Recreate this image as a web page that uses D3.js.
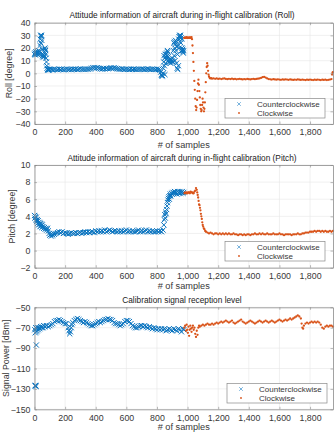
<!DOCTYPE html>
<html>
<head>
<meta charset="utf-8">
<script src="https://cdn.jsdelivr.net/npm/d3@7"></script>
<style>
  body { margin: 0; background: #fff; }
  svg { display: block; font-family: "Liberation Sans", Arial, sans-serif; }
</style>
</head>
<body>
<div id="chart"></div>
<script>
// Sample ranges and legend labels
const xDomain = [0, 1950];
const xTicks = [0, 200, 400, 600, 800, 1000, 1200, 1400, 1600, 1800];
const seriesNames = ["Counterclockwise", "Clockwise"];

// Roll [degree], counterclockwise turn (sample, value)
const rollCcw = [[0,15],[3,16],[6,14.5],[9,17],[12,15.5],[15,16],[18,15],[21,17],[24,16],[27,18],[30,15],[33,17],[36,22],[38,27],[40,30],[42,24],[44,29],[46,30],[48,26],[50,19],[52,14],[55,13],[58,15],[61,14],[64,13],[66,17],[68,20],[70,19],[72,18],[74,15],[76,12],[78,9],[80,6],[82,4],[85,3],[88,2.5],[92,3],[96,2.6],[100,3.2],
  [110,3.0],[120,2.8],[130,3.3],[140,3.1],[150,2.9],[160,3.4],[170,3.0],[180,3.2],[190,2.8],[200,3.1],[210,3.5],[220,3.0],[230,3.2],[240,2.9],[250,3.3],[260,3.1],[270,3.4],[280,3.0],[290,3.2],[300,3.6],[310,3.1],[320,3.3],[330,3.0],[340,3.4],[350,3.2],[360,3.5],[370,3.8],[380,4.4],[390,4.6],[400,4.3],[410,4.5],[420,4.0],[430,3.6],[440,3.4],[450,3.8],[460,3.5],[470,3.9],[480,3.6],[490,4.0],[500,4.3],[510,4.1],[520,4.4],[530,4.0],[540,3.6],[550,3.4],[560,3.2],[570,3.5],[580,3.3],[590,3.1],[600,3.4],[610,3.2],[620,3.0],[630,3.3],[640,3.1],[650,3.4],[660,3.2],[670,3.0],[680,3.3],[690,3.1],[700,3.4],[710,3.2],[720,3.0],[730,3.3],[740,3.5],[750,3.2],[760,3.0],[770,3.4],[780,3.2],[790,3.1],[800,3.3],[810,3.0],[820,2.5],
  [825,1],[828,-1],[831,-2],[834,-1.5],[837,-2],[840,0],[842,4],[844,9],[846,14],[848,6],[850,12],[852,-1],[854,15],[856,8],[858,13],[860,15],[862,11],[864,16],[866,14],[868,18],[870,17],[872,13],[874,10],[877,9],[880,11],[883,9],[886,10],[889,8],[892,11],[895,9],[898,10],[901,12],[904,9],[907,18],[910,24],[912,14],[914,25],[916,20],[918,10],[920,23],[922,26],[924,18],[926,25],[928,8],[930,21],[932,4],[934,15],[936,3],[938,22],[940,6],[942,27],[944,29],[946,20],[948,30],[950,25],[952,29],[954,30],[956,24],[958,28],[960,18],[962,27],[964,20],[966,18],[968,19],[970,17],[972,16],[975,18]];

// Roll [degree], clockwise turn
const rollCw = [[978,28],[982,28],[986,28.3],[990,28],[994,28.5],[998,28],[1002,28.2],[1006,28],[1010,28.4],[1014,28],[1018,28.3],[1022,28],[1026,28.5],[1029,27],[1032,22],[1035,16],[1038,9],[1041,2],[1044,-6],[1047,-13],[1050,-20],[1053,-26],[1056,-29],[1059,-27],[1062,-21],[1065,-14],[1068,-8],[1071,-5],[1074,-9],[1077,-14],[1080,-19],[1083,-25],[1086,-28],[1089,-30],[1092,-29],[1095,-25],[1098,-20],[1101,-23],[1104,-27],[1107,-30],[1110,-28],[1113,-23],[1116,-15],[1119,-7],[1122,0],[1125,5],[1128,8],[1131,6],[1134,2],[1137,-1],[1140,-2.5],[1144,-3.5],[1148,-4],[1154,-3.8],
  [1160,-4.2],[1170,-3.9],[1180,-4.3],[1190,-4.0],[1200,-4.4],[1210,-4.1],[1220,-4.5],[1230,-4.2],[1240,-4.0],[1250,-4.4],[1260,-4.6],[1270,-4.3],[1280,-4.5],[1290,-4.2],[1300,-4.6],[1310,-4.4],[1320,-4.7],[1330,-4.5],[1340,-4.3],[1350,-4.6],[1360,-4.8],[1370,-4.5],[1380,-4.7],[1390,-4.4],[1400,-4.6],[1410,-4.8],[1420,-4.5],[1430,-4.3],[1440,-4.6],[1450,-4.4],[1460,-4.2],[1470,-4.0],[1480,-3.6],[1490,-3.0],[1500,-2.8],[1510,-3.3],[1520,-4.0],[1530,-4.5],[1540,-4.7],[1550,-4.9],[1560,-4.6],[1570,-4.8],[1580,-5.0],[1590,-4.7],[1600,-4.9],[1610,-5.1],[1620,-4.8],[1630,-5.0],[1640,-4.7],[1650,-4.9],[1660,-5.1],[1670,-4.8],[1680,-5.0],[1690,-5.2],[1700,-4.9],[1710,-5.1],[1720,-4.8],[1730,-5.0],[1740,-5.2],[1750,-4.9],[1760,-5.1],[1770,-5.3],[1780,-5.0],[1790,-5.2],[1800,-4.9],[1810,-5.1],[1820,-5.3],[1830,-5.0],[1840,-5.2],[1850,-4.9],[1860,-5.1],[1870,-5.3],[1880,-5.0],[1890,-5.2],[1900,-5.0],[1910,-5.3],[1920,-5.1],[1930,-4.9],[1940,-4.5],[1944,-1],[1947,0.5],[1950,1]];

// Pitch [degree], counterclockwise turn
const pitchCcw = [[0,4.1],[3,3.8],[6,4.0],[9,3.6],[12,3.9],[15,3.4],[18,3.6],[21,3.2],[24,3.5],[27,3.0],[30,3.3],[33,3.1],[36,2.8],[39,3.2],[42,2.9],[45,3.1],[48,2.7],[51,3.0],[55,2.8],[60,2.6],[65,2.7],[70,2.5],[75,2.6],[80,2.4],[85,2.6],[90,2.3],[95,2.0],[100,1.8],[105,1.9],[110,1.7],[115,1.9],[120,1.8],[125,2.0],[130,1.9],[140,2.0],[150,2.1],[160,2.2],[170,2.1],[180,2.2],[190,2.0],[200,2.1],[210,2.0],[220,1.9],[230,2.0],[240,2.1],[250,2.0],[260,2.0],[270,2.1],[280,2.0],[290,2.1],[300,2.1],[310,2.0],[320,2.1],[330,2.2],[340,2.1],[350,2.2],[360,2.1],[370,2.2],[380,2.2],[390,2.1],[400,2.3],[410,2.2],[420,2.3],[430,2.2],[440,2.3],[450,2.2],[460,2.4],[470,2.2],[480,2.3],[490,2.4],[500,2.3],[510,2.2],[520,2.3],[530,2.3],[540,2.2],[550,2.3],[560,2.2],[570,2.3],[580,2.2],[590,2.3],[600,2.4],[610,2.2],[620,2.3],[630,2.2],[640,2.3],[650,2.2],[660,2.2],[670,2.3],[680,2.4],[690,2.2],[700,2.3],[710,2.2],[720,2.3],[730,2.4],[740,2.2],[750,2.3],[760,2.2],[770,2.3],[780,2.2],[790,2.2],[800,2.3],[810,2.2],[820,2.3],[830,2.2],[840,2.4],[845,3.0],[848,3.6],[851,4.2],[854,3.8],[857,4.5],[860,4.3],[863,4.8],[866,5.2],[869,5.6],[872,5.9],[875,6.1],[878,6.3],[881,6.0],[884,6.4],[887,6.6],[890,6.4],[895,6.7],[900,6.6],[905,6.8],[910,6.7],[915,6.9],[920,6.7],[925,6.8],[930,6.6],[935,6.9],[940,6.8],[945,6.7],[950,6.9],[955,6.7],[960,6.8],[965,6.9],[970,6.7],[975,6.8]];

// Pitch [degree], clockwise turn
const pitchCw = [[980,6.7],[985,6.8],[990,6.7],[995,6.8],[1000,6.7],[1005,6.8],[1010,6.8],[1015,6.7],[1020,6.9],[1025,6.8],[1030,6.8],[1035,6.7],[1040,6.7],[1045,6.9],[1050,7.0],[1055,7.3],[1060,7.1],[1063,6.8],[1066,6.5],[1069,6.2],[1072,5.8],[1075,5.4],[1078,5.3],[1081,5.0],[1084,4.7],[1087,4.3],[1090,4.0],[1093,3.7],[1096,3.3],[1099,3.0],[1102,2.8],[1106,2.6],[1110,2.5],[1115,2.3],[1120,2.2],[1130,2.1],[1140,2.0],[1150,2.1],[1160,2.0],[1170,1.9],[1180,2.0],[1190,2.0],[1200,1.9],[1210,2.0],[1220,1.9],[1230,2.0],[1240,1.9],[1250,2.0],[1260,1.9],[1270,2.0],[1280,1.9],[1290,1.9],[1300,2.0],[1310,1.9],[1320,1.9],[1330,1.8],[1340,1.9],[1350,1.9],[1360,1.8],[1370,1.9],[1380,1.8],[1390,1.9],[1400,1.9],[1410,1.8],[1420,1.9],[1430,1.9],[1440,2.0],[1450,1.9],[1460,1.9],[1470,2.0],[1480,1.9],[1490,2.0],[1500,1.9],[1510,1.9],[1520,2.0],[1530,1.9],[1540,1.9],[1550,1.9],[1560,2.0],[1570,1.9],[1580,1.9],[1590,1.9],[1600,2.0],[1610,1.9],[1620,1.9],[1630,1.8],[1640,1.9],[1650,1.9],[1660,1.9],[1670,1.9],[1680,1.8],[1690,1.9],[1700,1.9],[1710,1.9],[1720,2.0],[1730,1.9],[1740,1.9],[1750,2.0],[1760,2.0],[1770,2.1],[1780,2.1],[1790,2.1],[1800,2.2],[1810,2.2],[1820,2.2],[1830,2.3],[1840,2.2],[1850,2.3],[1860,2.3],[1870,2.2],[1880,2.3],[1890,2.2],[1900,2.3],[1910,2.2],[1920,2.2],[1930,2.3],[1940,2.2],[1950,2.3]];

// Signal power [dBm], counterclockwise turn
const powerCcw = [[4,-127],[6,-126.5],[8,-127],[10,-127.5],[12,-87],
  [2,-72],[5,-75],[8,-70],[11,-74],[14,-71],[17,-73],[20,-70],[25,-72],[30,-70],[35,-71],[40,-69],[45,-70],[50,-69],[55,-70],[60,-68],[70,-69],[80,-68],[90,-69],[100,-68],[110,-67],[120,-66],[130,-64],[140,-63],[150,-63],[160,-62],[170,-63],[180,-64],[190,-65],[200,-66],[210,-66],[220,-70],[225,-73],[230,-76],[235,-74],[240,-70],[245,-67],[250,-65],[260,-63],[270,-62],[280,-61],[290,-62],[300,-63],[310,-64],[320,-65],[330,-64],[340,-65],[350,-66],[360,-67],[370,-68],[380,-68],[390,-67],[400,-66],[410,-65],[420,-64],[430,-65],[440,-64],[450,-63],[460,-62],[470,-62],[480,-61],[490,-62],[500,-62],[510,-63],[520,-65],[530,-66],[540,-66],[550,-67],[560,-68],[570,-67],[580,-66],[590,-64],[600,-63],[610,-63],[620,-64],[630,-66],[640,-68],[650,-69],[660,-70],[670,-70],[680,-69],[690,-68],[700,-68],[710,-69],[720,-68],[730,-69],[740,-70],[750,-69],[760,-70],[770,-71],[780,-70],[790,-71],[800,-72],[810,-71],[820,-72],[830,-71],[840,-72],[850,-71],[860,-73],[870,-72],[880,-71],[890,-72],[900,-73],[910,-71],[920,-72],[930,-73],[940,-71],[950,-72],[960,-74],[970,-71],[975,-72]];

// Signal power [dBm], clockwise turn
const powerCw = [[978,-70],[984,-68],[990,-73],[994,-67],[998,-72],[1002,-75],[1006,-69],[1010,-78],[1014,-72],[1018,-68],[1022,-71],[1026,-74],[1030,-70],[1035,-68],[1040,-72],[1045,-70],[1050,-76],[1055,-79],[1060,-73],[1065,-77],[1070,-70],[1075,-68],[1080,-69],[1090,-68],[1100,-67],[1110,-68],[1120,-67],[1130,-66],[1140,-67],[1150,-67],[1160,-66],[1170,-67],[1180,-66],[1190,-65],[1200,-66],[1210,-65],[1220,-64],[1230,-65],[1240,-64],[1250,-63],[1260,-64],[1270,-65],[1280,-64],[1290,-63],[1300,-65],[1310,-66],[1320,-65],[1330,-64],[1340,-63],[1350,-62],[1360,-64],[1370,-65],[1380,-66],[1390,-65],[1400,-64],[1410,-63],[1420,-64],[1430,-65],[1440,-66],[1450,-65],[1460,-64],[1470,-63],[1480,-64],[1490,-65],[1500,-64],[1510,-63],[1520,-64],[1530,-65],[1540,-64],[1550,-63],[1560,-64],[1570,-65],[1580,-64],[1590,-63],[1600,-62],[1610,-63],[1620,-64],[1630,-63],[1640,-62],[1650,-63],[1660,-62],[1670,-61],[1680,-62],[1690,-61],[1700,-60],[1710,-59],[1720,-58],[1730,-59],[1740,-61],[1745,-66],[1750,-70],[1755,-71],[1760,-68],[1770,-66],[1780,-65],[1790,-66],[1800,-65],[1810,-64],[1820,-65],[1830,-64],[1840,-65],[1850,-64],[1860,-65],[1870,-67],[1880,-70],[1890,-71],[1900,-69],[1910,-68],[1920,-69],[1930,-68],[1940,-68],[1950,-69]];

// y ticks per panel
const rollTicks = [-40, -30, -20, -10, 0, 10, 20, 30, 40];
const pitchTicks = [-2, 0, 2, 4, 6, 8, 10];
const powerTicks = [-150, -130, -110, -90, -70, -50];

const blue = "#0a74c0";
const orange = "#D95319";
const axisColor = "#8a8a8a";
const textColor = "#383838";

const svg = d3.select("#chart").append("svg")
  .attr("width", 335)
  .attr("height", 438);

const xScale = d3.scaleLinear().domain(xDomain).range([34.5, 333]);

const xMark = "M-2.6,-2.6L2.6,2.6M-2.6,2.6L2.6,-2.6";

function drawPanel(p) {
  const yScale = d3.scaleLinear().domain(p.yDomain).range([p.bottom, p.top]);
  const g = svg.append("g");
  const left = xScale.range()[0], right = xScale.range()[1];

  // grid
  g.append("g")
    .selectAll("line.vg")
    .data(xTicks)
    .join("line")
    .attr("x1", (d) => xScale(d)).attr("x2", (d) => xScale(d))
    .attr("y1", p.top).attr("y2", p.bottom)
    .attr("stroke", "#e6e6e6").attr("stroke-width", 0.6);
  g.append("g")
    .selectAll("line.hg")
    .data(p.yTicks)
    .join("line")
    .attr("x1", left).attr("x2", right)
    .attr("y1", (d) => yScale(d)).attr("y2", (d) => yScale(d))
    .attr("stroke", "#e6e6e6").attr("stroke-width", 0.6);

  // data
  g.append("g")
    .selectAll("path")
    .data(p.ccw)
    .join("path")
    .attr("d", xMark)
    .attr("transform", (d) => `translate(${xScale(d[0])},${yScale(d[1])})`)
    .attr("fill", "none")
    .attr("stroke", blue)
    .attr("stroke-width", 1);

  g.append("g")
    .selectAll("circle")
    .data(p.cw)
    .join("circle")
    .attr("cx", (d) => xScale(d[0]))
    .attr("cy", (d) => yScale(d[1]))
    .attr("r", 1.15)
    .attr("fill", orange);

  // axes with inward ticks
  const bottomAxis = g.append("g")
    .attr("transform", `translate(0,${p.bottom})`)
    .call(d3.axisBottom(xScale).tickValues(xTicks).tickSize(-2.5).tickSizeOuter(0).tickPadding(5));
  const topAxis = g.append("g")
    .attr("transform", `translate(0,${p.top})`)
    .call(d3.axisTop(xScale).tickValues(xTicks).tickSize(-2.5).tickSizeOuter(0).tickFormat(""));
  const leftAxis = g.append("g")
    .attr("transform", `translate(${left},0)`)
    .call(d3.axisLeft(yScale).tickValues(p.yTicks).tickSize(-2.5).tickSizeOuter(0).tickPadding(4));
  const rightAxis = g.append("g")
    .attr("transform", `translate(${right},0)`)
    .call(d3.axisRight(yScale).tickValues(p.yTicks).tickSize(-2.5).tickSizeOuter(0).tickFormat(""));

  [bottomAxis, topAxis, leftAxis, rightAxis].forEach((a) => {
    a.select(".domain").attr("stroke", axisColor).attr("stroke-width", 0.8);
    a.selectAll(".tick line").attr("stroke", axisColor).attr("stroke-width", 0.6);
    a.selectAll("text")
      .attr("fill", textColor)
      .style("font-size", "8.8px")
      .style("font-family", "Liberation Sans, Arial, sans-serif");
  });

  // title
  g.append("text")
    .attr("x", 182)
    .attr("y", p.top - 4.5)
    .attr("text-anchor", "middle")
    .attr("fill", "#222")
    .style("font-size", "8.3px")
    .text(p.title);

  // x label
  g.append("text")
    .attr("x", (left + right) / 2)
    .attr("y", p.bottom + p.xLabelDy)
    .attr("text-anchor", "middle")
    .attr("fill", textColor)
    .style("font-size", "9.2px")
    .text("# of samples");

  // y label
  g.append("text")
    .attr("transform", `translate(${p.yLabelX},${(p.top + p.bottom) / 2}) rotate(-90)`)
    .attr("text-anchor", "middle")
    .attr("fill", textColor)
    .style("font-size", "8.8px")
    .text(p.yLabel);

  // legend
  const lg = g.append("g").attr("transform", `translate(${p.legend[0]},${p.legend[1]})`);
  lg.append("rect")
    .attr("width", 100).attr("height", 19.5)
    .attr("fill", "#fff")
    .attr("stroke", axisColor).attr("stroke-width", 0.7);
  lg.append("path")
    .attr("d", "M-1.8,-1.8L1.8,1.8M-1.8,1.8L1.8,-1.8")
    .attr("transform", "translate(14,5.5)")
    .attr("fill", "none")
    .attr("stroke", blue)
    .attr("stroke-width", 0.8)
    .attr("opacity", 0.7);
  lg.append("circle")
    .attr("cx", 14).attr("cy", 14.5).attr("r", 0.9)
    .attr("fill", orange);
  lg.selectAll("text.lt")
    .data(seriesNames)
    .join("text")
    .attr("x", 32)
    .attr("y", (d, i) => 8.5 + i * 9)
    .attr("fill", textColor)
    .style("font-size", "8px")
    .text((d) => d);
}

drawPanel({
  title: "Attitude information of aircraft during in-flight calibration (Roll)",
  yLabel: "Roll [degree]",
  yDomain: [-40, 40],
  yTicks: rollTicks,
  top: 22.7, bottom: 124,
  ccw: rollCcw, cw: rollCw,
  xLabelDy: 23.5, yLabelX: 12,
  legend: [225, 98.5]
});

drawPanel({
  title: "Attitude information of aircraft during in-flight calibration (Pitch)",
  yLabel: "Pitch [degree]",
  yDomain: [-2, 10],
  yTicks: pitchTicks,
  top: 165, bottom: 267.7,
  ccw: pitchCcw, cw: pitchCw,
  xLabelDy: 21.5, yLabelX: 14.5,
  legend: [225, 241.5]
});

drawPanel({
  title: "Calibration signal reception level",
  yLabel: "Signal Power [dBm]",
  yDomain: [-150, -50],
  yTicks: powerTicks,
  top: 307.3, bottom: 409.3,
  ccw: powerCcw, cw: powerCw,
  xLabelDy: 20.7, yLabelX: 8.5,
  legend: [227, 383.5]
});
</script>
</body>
</html>
